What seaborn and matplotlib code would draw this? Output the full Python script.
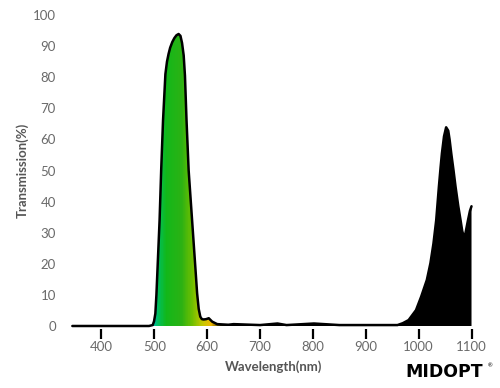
import numpy as np
import pandas as pd
import matplotlib
matplotlib.use("Agg")
import matplotlib.pyplot as plt
import seaborn as sns
from matplotlib.colors import LinearSegmentedColormap
from matplotlib.patches import Polygon

# ---- data ----
wavelength = [345, 400, 450, 490, 497, 499.5, 502, 504, 506, 510, 513, 516.5, 521,
              524, 527, 530, 534, 538, 542, 546, 549.5, 552.5, 555.6, 558, 561,
              565, 571.5, 578, 581, 584, 587, 590, 593.5, 598, 603, 609.5, 619,
              640, 650, 700, 733, 750, 802, 850, 900, 960, 970, 981, 995, 1004.7,
              1015.5, 1022.3, 1028, 1033.2, 1038.3, 1041.5, 1044, 1048, 1052,
              1056, 1058.5, 1061.7, 1066, 1069.8, 1075, 1079.3, 1082.5, 1085,
              1088.5, 1093.3, 1097, 1100]
transmission = [0.0, 0.0, 0.0, 0.0, 0.3, 1.5, 4, 10, 18, 34, 50, 66, 81,
                85, 87.5, 89.5, 91.3, 92.6, 93.5, 93.9, 93.3, 91, 87, 80.5, 66,
                50, 34, 18, 10.5, 5.5, 3, 2.2, 2.1, 2.2, 2.5, 1.4, 0.6,
                0.4, 0.6, 0.3, 0.8, 0.3, 0.8, 0.3, 0.3, 0.3, 0.9, 1.9, 5.1, 9.4,
                14.8, 20.2, 26.5, 34, 44.8, 51, 55.5, 61, 63.9,
                62.8, 60, 55.5, 50, 44.8, 38.5, 34, 30.5, 29,
                29.8, 34, 37, 38.5]
xticks = [400, 500, 600, 700, 800, 900, 1000, 1100]
yticks = [0, 10, 20, 30, 40, 50, 60, 70, 80, 90, 100]

df = pd.DataFrame({"Wavelength(nm)": wavelength, "Transmission(%)": transmission})

sns.set_style("white")
plt.rcParams["font.family"] = ["Lato", "DejaVu Sans"]

fig = plt.figure(figsize=(5.0, 3.88), dpi=100)
ax = fig.add_axes([0.1394, 0.1518, 0.8142, 0.8175])

# gradient fill clipped to the curve
xmin, xmax = 340, 1110
stops = [(340, "#000000"), (488, "#000000"), (496, "#00b8a8"), (505, "#00c060"),
         (520, "#12b81a"), (550, "#2cb214"), (570, "#70c000"), (590, "#c8c800"),
         (606, "#f0b800"), (625, "#202000"), (640, "#000000"), (1110, "#000000")]
cmap = LinearSegmentedColormap.from_list(
    "spec", [((w - xmin) / (xmax - xmin), c) for w, c in stops])
grad = np.linspace(0, 1, 800).reshape(1, -1)
verts = [(wavelength[0], 0)] + list(zip(wavelength, transmission)) + [(wavelength[-1], 0)]
poly = Polygon(verts, closed=True, facecolor="none", edgecolor="none")
ax.add_patch(poly)
im = ax.imshow(grad, extent=[xmin, xmax, 0, 100], aspect="auto", cmap=cmap,
               origin="lower", zorder=1)
im.set_clip_path(poly)

sns.lineplot(data=df, x="Wavelength(nm)", y="Transmission(%)", ax=ax,
             color="black", linewidth=1.8, sort=False, zorder=3)

ax.set_xlim(xmin, xmax)
ax.set_ylim(-1, 101)
ax.set_xticks(xticks)
ax.set_yticks(yticks)
for s in ax.spines.values():
    s.set_visible(False)
ax.tick_params(axis="x", which="both", bottom=True, length=7, width=1.6,
               color="black", direction="out", pad=1.5, labelsize=9.5,
               labelcolor="#6a6a6a")
ax.tick_params(axis="y", length=0, pad=10, labelsize=9.5, labelcolor="#6a6a6a")
ax.set_xlabel("Wavelength(nm)", fontsize=9.5, color="#555555", fontweight="bold",
              labelpad=5)
ax.set_ylabel("Transmission(%)", fontsize=9.5, color="#555555", fontweight="bold",
              labelpad=3)
ax.grid(False)

fig.text(0.888, 0.040, "MIDOPT", ha="center", va="center", fontsize=12.5,
         fontweight="bold", color="black", family="DejaVu Sans")
fig.text(0.975, 0.058, "®", ha="left", va="center", fontsize=4, color="black")

fig.savefig("out.png", dpi=100)
